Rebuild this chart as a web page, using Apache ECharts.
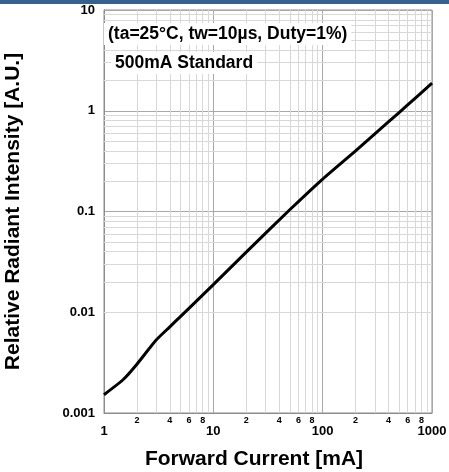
<!DOCTYPE html>
<html>
<head>
<meta charset="utf-8">
<script src="https://cdn.jsdelivr.net/npm/echarts@6/dist/echarts.min.js"></script>
<style>
  html, body { margin: 0; padding: 0; background: #fff; }
  #bar { position: absolute; left: 0; top: 0; width: 449px; height: 4px; background: #35608f; }
  #chart { position: absolute; left: 0; top: 0; width: 449px; height: 472px; }
</style>
</head>
<body>
<div id="chart"></div>
<div id="bar"></div>
<script>
// Forward current (mA) and relative radiant intensity (A.U.)
const currentMA = [1, 1.5, 2, 3, 4, 5, 7, 10, 20, 50, 100, 200, 300, 500, 700, 1000];
const intensity = [0.00152, 0.00215, 0.00305, 0.0053, 0.00717, 0.00906, 0.0129, 0.0188, 0.0395, 0.104, 0.21, 0.40, 0.59, 0.96, 1.33, 1.88];

// Minor grid positions inside each decade
const minorSteps = [2, 3, 4, 5, 6, 7, 8, 9];
const labelledSteps = [2, 4, 6, 8];
const xDecades = [1, 10, 100];
const yDecades = [0.001, 0.01, 0.1, 1];

const noteLines = ['(ta=25°C, tw=10\u00b5s, Duty=1%)', '500mA Standard'];

const FONT = 'Liberation Sans, Arial, sans-serif';

function fmt(v) { return String(Number(Number(v).toPrecision(3))); }

const minorColor = '#d8d8d8';

const xMinor = [];
xDecades.forEach(d => minorSteps.forEach(s => {
  const show = labelledSteps.indexOf(s) >= 0;
  xMinor.push({
    xAxis: d * s,
    label: { show: show, formatter: String(s), position: 'start', distance: 3,
             color: '#000', fontSize: 9, fontWeight: 'bold', fontFamily: FONT }
  });
}));
const yMinor = [];
yDecades.forEach(d => minorSteps.forEach(s => {
  yMinor.push({ yAxis: d * s, label: { show: false } });
}));

const noteStyle = { fontFamily: FONT, fontWeight: 'bold', fontSize: 17.5, color: '#000' };

const chart = echarts.init(document.getElementById('chart'), null, { renderer: 'canvas' });
chart.setOption({
  animation: false,
  backgroundColor: '#fff',
  grid: {
    left: 104, right: 17, top: 10, bottom: 59,
    containLabel: false, outerBoundsMode: 'none',
    show: true, borderColor: '#8c8c8c', borderWidth: 1
  },
  title: [
    { text: noteLines[0], left: 104, top: 23, padding: [2, 4, 2, 4], backgroundColor: '#fff', textStyle: noteStyle },
    { text: noteLines[1], left: 111, top: 52, padding: [2, 4, 2, 4], backgroundColor: '#fff', textStyle: noteStyle }
  ],
  xAxis: {
    type: 'log', logBase: 10, min: 1, max: 1000,
    name: 'Forward Current [mA]', nameLocation: 'middle', nameGap: 36,
    nameTextStyle: { fontFamily: FONT, fontWeight: 'bold', fontSize: 21, color: '#000', padding: [0, 28, 0, 0] },
    axisLine: { show: true, lineStyle: { color: '#8c8c8c' } },
    axisTick: { show: false },
    axisLabel: { formatter: v => fmt(v), margin: 12, color: '#000', fontFamily: FONT, fontWeight: 'bold', fontSize: 13 },
    splitLine: { show: true, lineStyle: { color: '#a8a8a8', width: 1 } }
  },
  yAxis: {
    type: 'log', logBase: 10, min: 0.001, max: 10,
    name: 'Relative Radiant Intensity [A.U.]', nameLocation: 'middle', nameGap: 80,
    nameTextStyle: { fontFamily: FONT, fontWeight: 'bold', fontSize: 21, color: '#000' },
    axisLine: { show: true, lineStyle: { color: '#8c8c8c' } },
    axisTick: { show: false },
    axisLabel: { formatter: v => fmt(v), margin: 9, color: '#000', fontFamily: FONT, fontWeight: 'bold', fontSize: 13 },
    splitLine: { show: true, lineStyle: { color: '#a8a8a8', width: 1 } }
  },
  series: [
    {
      type: 'line',
      data: currentMA.map((c, i) => [c, intensity[i]]),
      showSymbol: false,
      smooth: 0.2,
      lineStyle: { color: '#000', width: 3 },
      z: 5,
      markLine: {
        silent: true, symbol: ['none', 'none'], animation: false,
        lineStyle: { color: minorColor, width: 1, type: 'solid' },
        emphasis: { disabled: true },
        data: xMinor.concat(yMinor)
      }
    }
  ]
});
</script>
</body>
</html>
